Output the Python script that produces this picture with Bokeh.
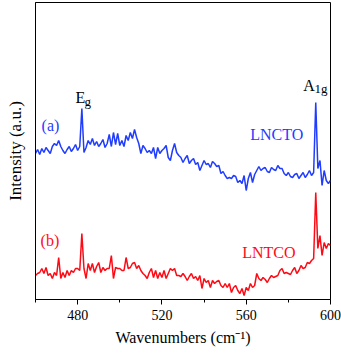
from bokeh.plotting import figure
from bokeh.models import Range1d, FixedTicker, Label, LinearAxis
from bokeh.embed import file_html
from bokeh.resources import INLINE

# Wavenumbers (cm^-1), 1 cm^-1 steps from 460 to 600
wavenumber = list(range(460, 601))

# (a) LNCTO Raman intensity (a.u., offset curve)
lncto = [
    147, 151, 146, 152, 148, 153, 150, 147, 154, 157,
    155, 160, 154, 150, 147, 151, 154, 149, 152, 156,
    150, 154, 192, 148, 153, 160, 156, 162, 155, 159,
    154, 157, 161, 153, 157, 166, 154, 168, 156, 167,
    155, 160, 154, 165, 160, 168, 162, 171, 163, 157,
    147, 155, 152, 148, 150, 147, 153, 142, 153, 147,
    150, 152, 155, 143, 140, 150, 157, 148, 145, 143,
    138, 142, 145, 137, 140, 142, 136, 138, 130, 135,
    140, 136, 137, 133, 139, 137, 134, 135, 127, 129,
    125, 122, 123, 122, 125, 124, 118, 120, 117, 125,
    110, 122, 128, 118, 126, 130, 134, 130, 132, 133,
    129, 128, 133, 131, 130, 135, 132, 132, 127, 125,
    128, 124, 123, 126, 127, 122, 125, 128, 123, 126,
    130, 125, 128, 198, 132, 140, 115, 130, 120, 117, 120,
]

# (b) LNTCO Raman intensity (a.u.)
lntco = [
    25, 27, 28, 32, 27, 33, 25, 27, 22, 28,
    25, 43, 22, 28, 23, 30, 25, 30, 28, 32,
    32, 30, 67, 32, 22, 37, 30, 37, 28, 34,
    38, 28, 33, 30, 32, 32, 45, 22, 33, 32,
    32, 30, 30, 43, 32, 33, 37, 38, 32, 35,
    30, 27, 25, 22, 28, 32, 23, 30, 22, 28,
    23, 30, 22, 27, 32, 30, 32, 25, 25, 24,
    27, 24, 20, 24, 27, 22, 24, 20, 25, 12,
    22, 18, 20, 13, 20, 17, 19, 20, 15, 13,
    17, 13, 17, 8, 13, 15, 10, 7, 12, 5,
    13, 10, 17, 13, 15, 27, 22, 20, 23, 21,
    18, 22, 25, 23, 24, 25, 30, 32, 27, 28,
    27, 26, 30, 33, 27, 30, 35, 32, 33, 38,
    37, 40, 42, 108, 52, 65, 45, 58, 52, 57, 55,
]

x_ticks = [480, 520, 560, 600]
x_minor_ticks = [460, 500, 540, 580]

BLUE = "#1f3cff"
RED = "#ff0a14"
FONT = "Liberation Serif"

p = figure(
    width=341, height=353,
    output_backend="svg", toolbar_location=None,
    x_range=Range1d(460, 600), y_range=Range1d(1, 298),
    x_axis_location=None, y_axis_location=None,
    min_border_left=35, min_border_right=11,
    min_border_top=2, min_border_bottom=54,
)
p.grid.visible = False
p.outline_line_color = "black"
p.outline_line_width = 1
p.background_fill_color = "white"
p.border_fill_color = "white"

xaxis = LinearAxis(
    ticker=FixedTicker(ticks=x_ticks, minor_ticks=x_minor_ticks),
    axis_label="Wavenumbers (cm\u207b\u00b9)",
)
xaxis.major_tick_out = 5
xaxis.major_tick_in = 0
xaxis.minor_tick_out = 3
xaxis.minor_tick_in = 0
xaxis.major_label_text_font = FONT
xaxis.major_label_text_font_size = "14px"
xaxis.major_label_text_color = "black"
xaxis.major_label_standoff = 5
xaxis.axis_label_text_font = FONT
xaxis.axis_label_text_font_size = "16px"
xaxis.axis_label_text_font_style = "normal"
xaxis.axis_label_text_color = "black"
xaxis.axis_label_standoff = 6
p.add_layout(xaxis, "below")

yaxis = LinearAxis(
    ticker=FixedTicker(ticks=[]),
    axis_label="Intensity (a.u.)",
)
yaxis.major_tick_out = 0
yaxis.major_tick_in = 0
yaxis.minor_tick_out = 0
yaxis.minor_tick_in = 0
yaxis.axis_label_text_font = FONT
yaxis.axis_label_text_font_size = "17px"
yaxis.axis_label_text_font_style = "normal"
yaxis.axis_label_text_color = "black"
yaxis.axis_label_standoff = 11
p.add_layout(yaxis, "left")

p.line(wavenumber, lncto, line_color=BLUE, line_width=1.5)
p.line(wavenumber, lntco, line_color=RED, line_width=1.5)


def add_label(x, y, text, color="black", size="16px"):
    p.add_layout(Label(
        x=x, y=y, text=text, text_color=color, text_font=FONT,
        text_font_size=size, text_align="left", text_baseline="alphabetic",
    ))


add_label(479.0, 203, "E")
add_label(483.3, 199, "g", size="13px")
add_label(587.1, 215, "A")
add_label(592.4, 212, "1g", size="13px")
add_label(462.9, 175, "(a)", color=BLUE)
add_label(561.9, 166, "LNCTO", color=BLUE)
add_label(462.4, 60, "(b)", color=RED)
add_label(558.1, 48, "LNTCO", color=RED)

open("out.html", "w").write(file_html(p, INLINE))
